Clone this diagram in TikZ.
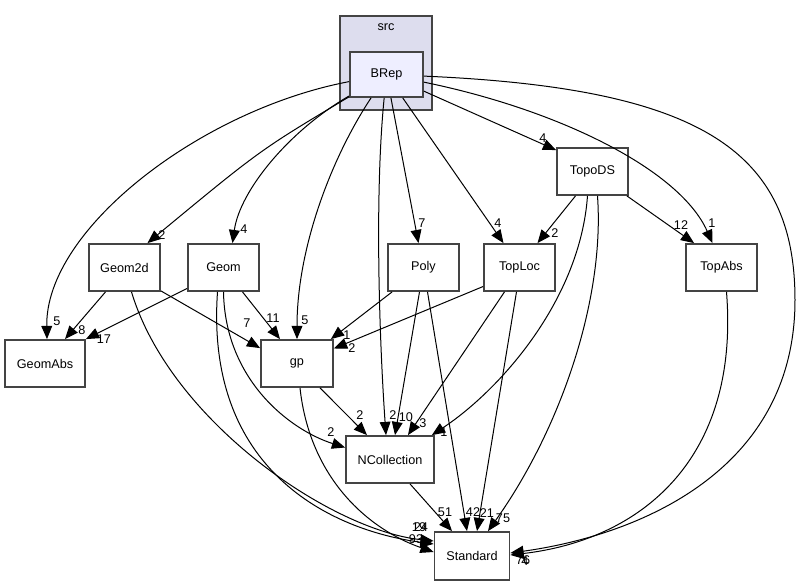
\documentclass[tikz,border=0pt]{standalone}
\usepackage{fontspec}
\setmainfont{Liberation Sans}
\usetikzlibrary{arrows.meta,calc}
\definecolor{clusterfill}{HTML}{DDDDEE}
\definecolor{mainfill}{HTML}{EEEEFF}
\definecolor{boxline}{HTML}{444444}

\begin{document}
\begin{tikzpicture}[x=0.25mm, y=-0.25mm,
  dir/.style={draw=boxline, line width=0.45mm, fill=white, minimum width=17.75mm, minimum height=11.75mm, inner sep=0pt, font=\fontsize{9}{11}\selectfont},
  dep/.style={-{Triangle[length=3.3mm,width=2.7mm]}, line width=0.25mm},
  lbl/.style={font=\fontsize{9}{11}\selectfont, inner sep=0pt}
]
  \useasboundingbox (0,0) rectangle (801,585);
  \filldraw[fill=clusterfill, draw=boxline, line width=0.4mm] (340,16) rectangle (432,110);
  \node[lbl] (srclbl) at (386,27) {src};

  \node[dir, fill=mainfill, minimum width=18.25mm, minimum height=11.25mm] (BRep) at (386.5,74.5) {BRep};
  \node[dir] (TopoDS)  at (592.5,171.5) {TopoDS};
  \node[dir] (Geom2d)  at (124.5,267.5) {Geom2d};
  \node[dir] (Geom)    at (223.5,267.5) {Geom};
  \node[dir] (Poly)    at (423.5,267.5) {Poly};
  \node[dir] (TopLoc)  at (519.5,267.5) {TopLoc};
  \node[dir] (TopAbs)  at (721.5,267.5) {TopAbs};
  \node[dir, minimum width=20mm] (GeomAbs) at (45,363.5) {GeomAbs};
  \node[dir, minimum width=18mm] (gp) at (297,363.5) {gp};
  \node[dir, minimum width=22mm] (NCollection) at (390,459.5) {NCollection};
  \node[dir, minimum width=18.75mm, minimum height=12mm] (Standard) at (472,556) {Standard};

  \draw[dep] (BRep) .. controls (200,110) and (45,230) .. ($(GeomAbs.north)+(2,0)$) node[lbl] (l1) at (57,321) {5};
  \draw[dep] (BRep) .. controls (260,150) .. ($(Geom2d.north)+(23,0)$) node[lbl] (l2) at (162,235) {2};
  \draw[dep] (BRep) .. controls (290,130) and (240,190) .. ($(Geom.north)+(9,0)$) node[lbl] (l3) at (244,229) {4};
  \draw[dep] (BRep) .. controls (330,160) and (297,250) .. (gp.north) node[lbl] (l4) at (305,320) {5};
  \draw[dep] (BRep) .. controls (374,200) and (380,350) .. ($(NCollection.north)+(-4,0)$) node[lbl] (l5) at (393,415) {2};
  \draw[dep] (BRep) -- ($(Poly.north)+(-5,0)$) node[lbl] (l6) at (422,223) {7};
  \draw[dep] (BRep) -- ($(TopLoc.north)+(-16,0)$) node[lbl] (l7) at (498,223) {4};
  \draw[dep] (BRep) -- ($(TopoDS.north west)+(0,3)$) node[lbl] (l8) at (543,138) {4};
  \draw[dep] (BRep) .. controls (560,110) and (680,170) .. ($(TopAbs.north)+(-9,0)$) node[lbl] (l9) at (712,223) {1};
  \draw[dep] (BRep) .. controls (700,88) and (795,150) .. (795,300) .. controls (795,470) and (640,535) .. ($(Standard.east)+(0,-3)$) node[lbl] (l10) at (523,560) {76};

  \draw[dep] ($(TopoDS.south)+(-17,0)$) -- ($(TopLoc.north)+(18,0)$) node[lbl] (l11) at (555,233) {2};
  \draw[dep] ($(TopoDS.south east)+(-2,0)$) -- ($(TopAbs.north west)+(9,0)$) node[lbl] (l12) at (681,225) {12};
  \draw[dep] ($(TopoDS.south)+(-5,0)$) .. controls (580,300) and (500,390) .. ($(NCollection.north east)+(-3,0)$) node[lbl] (l13) at (444,432) {1};
  \draw[dep] ($(TopoDS.south)+(5,0)$) .. controls (605,300) and (560,430) .. ($(Standard.north)+(16,0)$) node[lbl] (l14) at (503,518) {75};

  \draw[dep] ($(Geom2d.south)+(-19,0)$) -- ($(GeomAbs.north)+(20,0)$) node[lbl] (l15) at (82,330) {8};
  \draw[dep] ($(Geom2d.south east)+(0,-1)$) -- ($(gp.north west)+(0,9)$) node[lbl] (l16) at (247,323) {7};
  \draw[dep] ($(Geom2d.south)+(7,0)$) .. controls (170,420) and (330,530) .. ($(Standard.west)+(0,-15)$) node[lbl] (l17) at (419,527) {19};
  \draw[dep] ($(Geom.west)+(0,21)$) -- (GeomAbs.north east) node[lbl] (l18) at (104,339) {17};
  \draw[dep] ($(Geom.south)+(19,0)$) -- ($(gp.north)+(-17,0)$) node[lbl] (l19) at (273,318) {11};
  \draw[dep] (Geom.south) .. controls (225,380) and (290,430) .. ($(NCollection.west)+(0,-12)$) node[lbl] (l20) at (331,432) {2};
  \draw[dep] ($(Geom.south)+(-6,0)$) .. controls (205,470) and (330,530) .. ($(Standard.west)+(0,-12)$) node[lbl] (l21) at (421,527) {24};

  \draw[dep] ($(Poly.south west)+(5,0)$) -- ($(gp.north east)+(-3,0)$) node[lbl] (l22) at (347,335) {1};
  \draw[dep] ($(Poly.south)+(-4,0)$) -- ($(NCollection.north)+(5,0)$) node[lbl] (l23) at (406,417) {10};
  \draw[dep] ($(Poly.south)+(4,0)$) -- ($(Standard.north)+(-5,0)$) node[lbl] (l24) at (473,512) {42};

  \draw[dep] ($(TopLoc.west)+(0,19)$) -- ($(gp.east)+(0,-15)$) node[lbl] (l25) at (352,348) {2};
  \draw[dep] ($(TopLoc.south)+(-15,0)$) -- ($(NCollection.north)+(18,0)$) node[lbl] (l26) at (423,423) {3};
  \draw[dep] ($(TopLoc.south)+(-3,0)$) -- ($(Standard.north)+(5,0)$) node[lbl] (l27) at (487,513) {21};

  \draw[dep] ($(gp.south)+(23,0)$) -- ($(NCollection.north)+(-23,0)$) node[lbl] (l28) at (360,415) {2};
  \draw[dep] ($(gp.south)+(3,0)$) .. controls (310,480) and (370,530) .. ($(Standard.west)+(0,-4)$) node[lbl] (l29) at (416,539) {93};
  \draw[dep] ($(NCollection.south)+(20,0)$) -- ($(Standard.north)+(-20,0)$) node[lbl] (l30) at (445,512) {51};
  \draw[dep] ($(TopAbs.south)+(5,0)$) .. controls (740,460) and (640,540) .. ($(Standard.east)+(0,-1)$) node[lbl] (l31) at (525,561) {4};
\end{tikzpicture}
\end{document}
